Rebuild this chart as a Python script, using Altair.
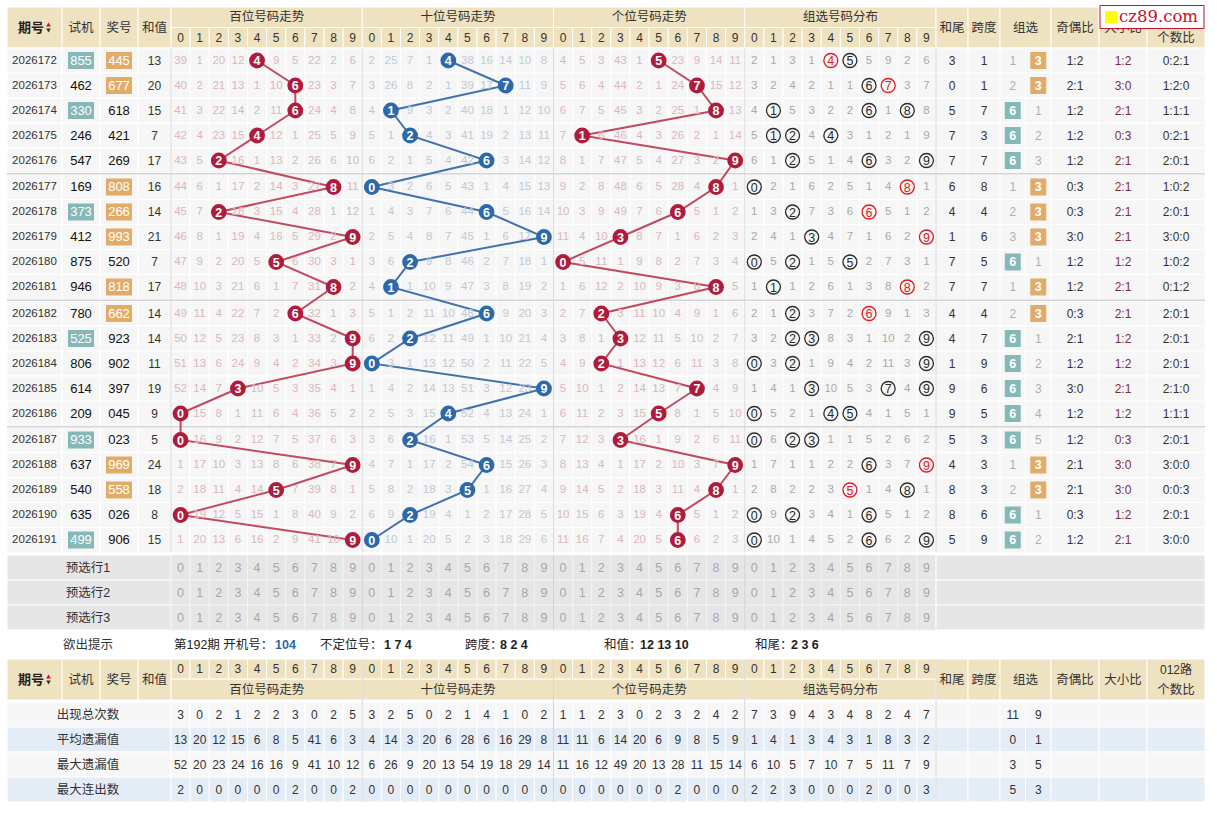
import altair as alt
import pandas as pd

# ---------------- data ----------------
periods = ["2026172", "2026173", "2026174", "2026175", "2026176", "2026177", "2026178",
           "2026179", "2026180", "2026181", "2026182", "2026183", "2026184", "2026185",
           "2026186", "2026187", "2026188", "2026189", "2026190", "2026191"]
trial_numbers = ["855", "462", "330", "246", "547", "169", "373", "412", "875", "946",
                 "780", "525", "806", "614", "209", "933", "637", "540", "635", "499"]
draw_numbers = ["445", "677", "618", "421", "269", "808", "266", "993", "520", "818",
                "662", "923", "902", "397", "045", "023", "969", "558", "026", "906"]
sum_values = [13, 20, 15, 7, 17, 16, 14, 21, 7, 17, 14, 14, 11, 19, 9, 5, 24, 18, 8, 15]
sum_tails = [3, 0, 5, 7, 7, 6, 4, 1, 7, 7, 4, 4, 1, 9, 9, 5, 4, 8, 8, 5]
span_values = [1, 1, 7, 3, 7, 8, 4, 6, 5, 7, 4, 7, 9, 6, 5, 3, 3, 3, 6, 9]
group6_col = ["1", "2", "6", "6", "6", "1", "2", "3", "6", "1",
              "2", "6", "6", "6", "6", "6", "1", "2", "6", "6"]
group3_col = ["3", "3", "1", "2", "3", "3", "3", "3", "1", "3",
              "3", "1", "2", "3", "4", "5", "3", "3", "1", "2"]
odd_even_ratio = ["1:2", "2:1", "1:2", "1:2", "1:2", "0:3", "0:3", "3:0", "1:2", "1:2",
                  "0:3", "2:1", "1:2", "3:0", "1:2", "1:2", "2:1", "2:1", "0:3", "1:2"]
big_small_ratio = ["1:2", "3:0", "2:1", "0:3", "2:1", "2:1", "2:1", "2:1", "1:2", "2:1",
                   "2:1", "1:2", "1:2", "2:1", "1:2", "0:3", "3:0", "3:0", "1:2", "2:1"]
road_012_ratio = ["0:2:1", "1:2:0", "1:1:1", "0:2:1", "2:0:1", "1:0:2", "2:0:1", "3:0:0",
                  "1:0:2", "0:1:2", "2:0:1", "2:0:1", "2:0:1", "2:1:0", "1:1:1", "2:0:1",
                  "3:0:0", "0:0:3", "2:0:1", "3:0:0"]

miss_hundreds = [
    "39 1 20 12 4 9 5 22 2 6", "40 2 21 13 1 10 6 23 3 7", "41 3 22 14 2 11 6 24 4 8",
    "42 4 23 15 4 12 1 25 5 9", "43 5 2 16 1 13 2 26 6 10", "44 6 1 17 2 14 3 27 8 11",
    "45 7 2 18 3 15 4 28 1 12", "46 8 1 19 4 16 5 29 2 9", "47 9 2 20 5 5 6 30 3 1",
    "48 10 3 21 6 1 7 31 8 2", "49 11 4 22 7 2 6 32 1 3", "50 12 5 23 8 3 1 33 2 9",
    "51 13 6 24 9 4 2 34 3 9", "52 14 7 3 10 5 3 35 4 1", "0 15 8 1 11 6 4 36 5 2",
    "0 16 9 2 12 7 5 37 6 3", "1 17 10 3 13 8 6 38 7 9", "2 18 11 4 14 5 7 39 8 1",
    "0 19 12 5 15 1 8 40 9 2", "1 20 13 6 16 2 9 41 10 9"]
miss_tens = [
    "2 25 7 1 4 38 16 14 10 8", "3 26 8 2 1 39 17 7 11 9", "4 1 9 3 2 40 18 1 12 10",
    "5 1 2 4 3 41 19 2 13 11", "6 2 1 5 4 42 6 3 14 12", "0 3 2 6 5 43 1 4 15 13",
    "1 4 3 7 6 44 6 5 16 14", "2 5 4 8 7 45 1 6 17 9", "3 6 2 9 8 46 2 7 18 1",
    "4 1 1 10 9 47 3 8 19 2", "5 1 2 11 10 48 6 9 20 3", "6 2 2 12 11 49 1 10 21 4",
    "0 3 1 13 12 50 2 11 22 5", "1 4 2 14 13 51 3 12 23 9", "2 5 3 15 4 52 4 13 24 1",
    "3 6 2 16 1 53 5 14 25 2", "4 7 1 17 2 54 6 15 26 3", "5 8 2 18 3 5 1 16 27 4",
    "6 9 2 19 4 1 2 17 28 5", "0 10 1 20 5 2 3 18 29 6"]
miss_units = [
    "4 5 3 43 1 5 23 9 14 11", "5 6 4 44 2 1 24 7 15 12", "6 7 5 45 3 2 25 1 8 13",
    "7 1 6 46 4 3 26 2 1 14", "8 1 7 47 5 4 27 3 2 9", "9 2 8 48 6 5 28 4 8 1",
    "10 3 9 49 7 6 6 5 1 2", "11 4 10 3 8 7 1 6 2 3", "0 5 11 1 9 8 2 7 3 4",
    "1 6 12 2 10 9 3 8 8 5", "2 7 2 3 11 10 4 9 1 6", "3 8 1 3 12 11 5 10 2 7",
    "4 9 2 1 13 12 6 11 3 8", "5 10 1 2 14 13 7 7 4 9", "6 11 2 3 15 5 8 1 5 10",
    "7 12 3 3 16 1 9 2 6 11", "8 13 4 1 17 2 10 3 7 9", "9 14 5 2 18 3 11 4 8 1",
    "10 15 6 3 19 4 6 5 1 2", "11 16 7 4 20 5 6 6 2 3"]
miss_group = [
    "2 1 3 1 4 5 5 9 2 6", "3 2 4 2 1 1 6 7 3 7", "4 1 5 3 2 2 6 1 8 8",
    "5 1 2 4 4 3 1 2 1 9", "6 1 2 5 1 4 6 3 2 9", "0 2 1 6 2 5 1 4 8 1",
    "1 3 2 7 3 6 6 5 1 2", "2 4 1 3 4 7 1 6 2 9", "0 5 2 1 5 5 2 7 3 1",
    "1 1 1 2 6 1 3 8 8 2", "2 1 2 3 7 2 6 9 1 3", "3 2 2 3 8 3 1 10 2 9",
    "0 3 2 1 9 4 2 11 3 9", "1 4 1 3 10 5 3 7 4 9", "0 5 2 1 4 5 4 1 5 1",
    "0 6 2 3 1 1 5 2 6 2", "1 7 1 1 2 2 6 3 7 9", "2 8 2 2 3 5 1 4 8 1",
    "0 9 2 3 4 1 6 5 1 2", "0 10 1 4 5 2 6 6 2 9"]

digit_labels = ["0", "1", "2", "3", "4", "5", "6", "7", "8", "9"]
section_titles = ["百位号码走势", "十位号码走势", "个位号码走势", "组选号码分布"]
left_titles = ["期号", "试机", "奖号", "和值"]
right_titles = ["和尾", "跨度", "组选", "奇偶比", "大小比"]
road_title = ["012路", "个数比"]
preselect_labels = ["预选行1", "预选行2", "预选行3"]
stat_labels = ["出现总次数", "平均遗漏值", "最大遗漏值", "最大连出数"]
stat_values = [
    "3 0 2 1 2 2 3 0 2 5 3 2 5 0 2 1 4 1 0 2 1 1 2 3 0 2 3 2 4 2 7 3 9 4 3 4 8 2 4 7",
    "13 20 12 15 6 8 5 41 6 3 4 14 3 20 6 28 6 16 29 8 11 11 6 14 20 6 9 8 5 9 1 4 1 3 4 3 1 8 3 2",
    "52 20 23 24 16 16 9 41 10 12 6 26 9 20 13 54 19 18 29 14 11 16 12 49 20 13 28 11 15 14 6 10 5 7 10 7 5 11 7 9",
    "2 0 0 0 0 0 2 0 0 2 0 0 0 0 0 0 0 0 0 0 0 0 0 0 0 0 2 0 0 0 2 2 3 0 0 0 2 0 0 3"]
stat_group = [("11", "9"), ("0", "1"), ("3", "5"), ("5", "3")]
tip_parts = [("第192期 开机号：", "n"), ("104", "blue"), ("不定位号：", "n"), ("1 7 4", "b"),
             ("跨度：", "n"), ("8 2 4", "b"), ("和值：", "n"), ("12 13 10", "b"),
             ("和尾：", "n"), ("2 3 6", "b")]

# ---------------- layout & style ----------------
W, H = 1217, 817
FONT = "Liberation Sans, Noto Sans CJK SC, sans-serif"
TAN = "#EFE2C1"
CELL = "#F6F6F6"
GRID = "#FFFFFF"
SEP = "#D3D3D3"
PRE = "#E6E6E6"
STAT_BG = ["#F7F7F7", "#E4ECF6", "#F7F7F7", "#E4ECF6"]
TEAL = "#86B8B9"
ORANGE = "#E1AC68"
RED_BALL, RED_LINE = "#B01B3C", "#C24A60"
BLUE_BALL, BLUE_LINE = "#2D68A8", "#3F72AF"
MISS_COL = ["#D9B8BD", "#C0C9D5", "#D9B8BD", "#A9A9A9"]
TXT = "#333333"

SEC0, CW = 171.0, 19.125
LEFT = [(7, 62), (62, 100), (100, 138), (138, 171)]
RIGHT = [(936, 968), (968, 1000), (1000, 1051), (1051, 1099), (1099, 1147), (1147, 1205)]
ZX_SUB = [(1000, 1025.5), (1025.5, 1051)]
PRE_TOP = [555, 580, 605]
STAT_TOP = [702, 727, 752, 777]


def cx(sec, d):
    return SEC0 + sec * 10 * CW + (d + 0.5) * CW


def row_top(i):
    return 48 + 25 * i + 1.5 * (i // 5)


def yc(i):
    return row_top(i) + 12.5


def lc(k):
    return (LEFT[k][0] + LEFT[k][1]) / 2


def rc(k):
    return (RIGHT[k][0] + RIGHT[k][1]) / 2


rects, hls, rules = [], [], []
tc, tb, tl, tlb = [], [], [], []
balls, lines, rings, arrows = [], [], [], []


def R(x0, x1, y0, y1, f, s=GRID):
    rects.append(dict(x=x0, x2=x1, y=y0, y2=y1, f=f, s=s))


def T(lst, x, y, t, c=TXT, s=12):
    lst.append(dict(x=x, y=y, t=str(t), c=c, s=s))


def header_block(y0, y1, ymid, digits_top):
    for a, b in LEFT:
        R(a, b, y0, y1, TAN)
    for sec in range(4):
        sx = SEC0 + sec * 10 * CW
        if digits_top:
            R(sx, sx + 10 * CW, ymid, y1, TAN)
            for d in range(10):
                R(sx + d * CW, sx + (d + 1) * CW, y0, ymid, TAN)
        else:
            R(sx, sx + 10 * CW, y0, ymid, TAN)
            for d in range(10):
                R(sx + d * CW, sx + (d + 1) * CW, ymid, y1, TAN)
    for a, b in RIGHT:
        R(a, b, y0, y1, TAN)
    yl = (y0 + y1) / 2
    T(tb, 31, yl, left_titles[0], "#222", 13)
    arrows.append(dict(x=48.5, y=yl - 3, c="#CC1111", sh="triangle-up"))
    arrows.append(dict(x=48.5, y=yl + 3, c="#333333", sh="triangle-down"))
    for k in range(1, 4):
        T(tc, lc(k), yl, left_titles[k], TXT, 12.5)
    ytitle = (ymid + y1) / 2 if digits_top else (y0 + ymid) / 2
    ydig = (y0 + ymid) / 2 if digits_top else (ymid + y1) / 2
    for sec in range(4):
        T(tc, SEC0 + sec * 10 * CW + 5 * CW, ytitle, section_titles[sec], TXT, 12.5)
        for d in range(10):
            T(tc, cx(sec, d), ydig, digit_labels[d], TXT, 12)
    for k in range(5):
        T(tc, rc(k), yl, right_titles[k], TXT, 12.5)
    T(tc, rc(5), y0 + 11, road_title[0], TXT, 12)
    T(tc, rc(5), y1 - 10, road_title[1], TXT, 12.5)


# top header
header_block(7, 48, 27.5, False)

# data rows
for i in range(20):
    t = row_top(i)
    y = yc(i)
    for a, b in LEFT:
        R(a, b, t, t + 25, CELL)
    for sec in range(4):
        for d in range(10):
            R(SEC0 + (sec * 10 + d) * CW, SEC0 + (sec * 10 + d + 1) * CW, t, t + 25, CELL)
    for k, (a, b) in enumerate(RIGHT):
        if k == 2:
            for a2, b2 in ZX_SUB:
                R(a2, b2, t, t + 25, CELL)
        else:
            R(a, b, t, t + 25, CELL)
    dn = draw_numbers[i]
    tn = trial_numbers[i]
    T(tc, lc(0), y, periods[i], TXT, 11.5)
    if len(set(tn)) < 3:
        hls.append(dict(x=lc(1) - 13, x2=lc(1) + 13, y=y - 8.5, y2=y + 8.5, f=TEAL))
        T(tc, lc(1), y, tn, "#FFFFFF", 13)
    else:
        T(tc, lc(1), y, tn, "#111111", 13)
    if len(set(dn)) < 3:
        hls.append(dict(x=lc(2) - 13, x2=lc(2) + 13, y=y - 8.5, y2=y + 8.5, f=ORANGE))
        T(tc, lc(2), y, dn, "#FFFFFF", 13)
    else:
        T(tc, lc(2), y, dn, "#111111", 13)
    T(tc, lc(3), y, sum_values[i], TXT, 12)
    for sec, arr in enumerate([miss_hundreds, miss_tens, miss_units, miss_group]):
        vals = arr[i].split()
        for d, v in enumerate(vals):
            x = cx(sec, d)
            if sec < 3 and int(dn[sec]) == d:
                col = BLUE_BALL if sec == 1 else RED_BALL
                balls.append(dict(x=x, y=y, c=col))
                lines.append(dict(x=x, y=y, i=i, sec=str(sec), c=BLUE_LINE if sec == 1 else RED_LINE))
                T(tb, x, y + 0.5, v, "#FFFFFF", 12.5)
            elif sec == 3 and str(d) in dn:
                col = "#E0191E" if dn.count(str(d)) >= 2 else "#2A2A2A"
                rings.append(dict(x=x, y=y, c=col))
                T(tc, x, y + 0.5, v, col, 12.5)
            else:
                T(tc, x, y, v, MISS_COL[sec], 11.5)
    T(tc, rc(0), y, sum_tails[i], TXT, 12)
    T(tc, rc(1), y, span_values[i], TXT, 12)
    six = len(set(dn)) == 3
    xl = (ZX_SUB[0][0] + ZX_SUB[0][1]) / 2
    xr = (ZX_SUB[1][0] + ZX_SUB[1][1]) / 2
    if six:
        hls.append(dict(x=xl - 8, x2=xl + 8, y=y - 8.5, y2=y + 8.5, f=TEAL))
        T(tb, xl, y, group6_col[i], "#FFFFFF", 12.5)
        T(tc, xr, y, group3_col[i], "#B0B0B0", 12)
    else:
        hls.append(dict(x=xr - 8, x2=xr + 8, y=y - 8.5, y2=y + 8.5, f=ORANGE))
        T(tc, xl, y, group6_col[i], "#B0B0B0", 12)
        T(tb, xr, y, group3_col[i], "#FFFFFF", 12.5)
    T(tc, rc(3), y, odd_even_ratio[i], TXT, 12)
    T(tc, rc(4), y, big_small_ratio[i], "#7B2E3E", 12)
    T(tc, rc(5), y, road_012_ratio[i], TXT, 12)

# group separators in the data block
for g in (5, 10, 15):
    yy = row_top(g) - 0.75
    rules.append(dict(x=7, x2=1205, y=yy, y2=yy, c=SEP, w=1.5))
for xb in [171, SEC0 + 10 * CW, SEC0 + 20 * CW, SEC0 + 30 * CW, 936]:
    rules.append(dict(x=xb, x2=xb, y=48, y2=row_top(19) + 25, c="#DADADA", w=1))

# preselect rows
for k, t in enumerate(PRE_TOP):
    R(7, 171, t, t + 25, PRE)
    for sec in range(4):
        for d in range(10):
            R(SEC0 + (sec * 10 + d) * CW, SEC0 + (sec * 10 + d + 1) * CW, t, t + 25, PRE, "#F3F3F3")
            T(tc, cx(sec, d), t + 12.5, digit_labels[d], "#A6A6A6", 12.5)
    R(936, 1205, t, t + 25, PRE)
    T(tc, 88, t + 12.5, preselect_labels[k], TXT, 12.5)
for xb in [SEC0 + 10 * CW, SEC0 + 20 * CW, SEC0 + 30 * CW]:
    rules.append(dict(x=xb, x2=xb, y=555, y2=630, c="#D0D0D0", w=1))

# hint row
T(tc, 88, 644.5, "欲出提示", TXT, 12.5)
tip_x = [174, 275, 320, 384, 465, 500, 604, 640, 755, 791]
for (txt, kind), xx in zip(tip_parts, tip_x):
    if kind == "n":
        T(tl, xx, 644.5, txt, "#222222", 12.5)
    elif kind == "blue":
        T(tlb, xx, 644.5, txt, "#2F67A6", 12.5)
    else:
        T(tlb, xx, 644.5, txt, "#222222", 12.5)

# bottom header
header_block(659, 700, 679, True)

# statistics rows
for k, t in enumerate(STAT_TOP):
    bg = STAT_BG[k]
    y = t + 12.5
    R(7, 171, t, t + 25, bg)
    vals = stat_values[k].split()
    for j, v in enumerate(vals):
        R(SEC0 + j * CW, SEC0 + (j + 1) * CW, t, t + 25, bg)
        T(tc, cx(j // 10, j % 10), y, v, TXT, 12)
    for kk, (a, b) in enumerate(RIGHT):
        if kk == 2:
            for a2, b2 in ZX_SUB:
                R(a2, b2, t, t + 25, bg)
        else:
            R(a, b, t, t + 25, bg)
    T(tc, (ZX_SUB[0][0] + ZX_SUB[0][1]) / 2, y, stat_group[k][0], TXT, 12)
    T(tc, (ZX_SUB[1][0] + ZX_SUB[1][1]) / 2, y, stat_group[k][1], TXT, 12)
    T(tc, 88, y, stat_labels[k], TXT, 12.5)
for xb in [SEC0 + 10 * CW, SEC0 + 20 * CW, SEC0 + 30 * CW, 936]:
    rules.append(dict(x=xb, x2=xb, y=659, y2=802, c="#D6D6D6", w=1))

# ---------------- chart ----------------
XS = alt.Scale(domain=[0, W], nice=False, zero=False)
YS = alt.Scale(domain=[0, H], nice=False, zero=False, reverse=True)
X = alt.X("x:Q", scale=XS, axis=None)
Y = alt.Y("y:Q", scale=YS, axis=None)

rect_layer = alt.Chart(pd.DataFrame(rects)).mark_rect(strokeWidth=1).encode(
    x=X, x2="x2:Q", y=Y, y2="y2:Q",
    fill=alt.Fill("f:N", scale=None), stroke=alt.Stroke("s:N", scale=None))
hl_layer = alt.Chart(pd.DataFrame(hls)).mark_rect().encode(
    x=X, x2="x2:Q", y=Y, y2="y2:Q", fill=alt.Fill("f:N", scale=None))
rule_layer = alt.Chart(pd.DataFrame(rules)).mark_rule().encode(
    x=X, x2="x2:Q", y=Y, y2="y2:Q", color=alt.Color("c:N", scale=None),
    strokeWidth=alt.StrokeWidth("w:Q", scale=None))
line_layer = alt.Chart(pd.DataFrame(lines)).mark_line(strokeWidth=2).encode(
    x=X, y=Y, detail="sec:N", order="i:Q", color=alt.Color("c:N", scale=None))
ball_layer = alt.Chart(pd.DataFrame(balls)).mark_circle(size=250, opacity=1).encode(
    x=X, y=Y, color=alt.Color("c:N", scale=None))
ring_layer = alt.Chart(pd.DataFrame(rings)).mark_point(
    shape="circle", filled=False, size=195, strokeWidth=1.3, opacity=1).encode(
    x=X, y=Y, color=alt.Color("c:N", scale=None))
arrow_layer = alt.Chart(pd.DataFrame(arrows)).mark_point(filled=True, size=22, opacity=1).encode(
    x=X, y=Y, color=alt.Color("c:N", scale=None), shape=alt.Shape("sh:N", scale=None))


def text_layer(rows, bold=False, align="center"):
    kw = dict(font=FONT, align=align, baseline="middle")
    if bold:
        kw["fontWeight"] = "bold"
    return alt.Chart(pd.DataFrame(rows)).mark_text(**kw).encode(
        x=X, y=Y, text="t:N", color=alt.Color("c:N", scale=None),
        size=alt.Size("s:Q", scale=None))


wm_box = alt.Chart(pd.DataFrame([dict(x=1100, x2=1204, y=5.5, y2=28.5)])).mark_rect(
    fill="#FFFFFF", stroke="#C8102E", strokeWidth=1).encode(x=X, x2="x2:Q", y=Y, y2="y2:Q")
wm_sq = alt.Chart(pd.DataFrame([dict(x=1105, x2=1117, y=11, y2=23)])).mark_rect(
    fill="#FFFF00").encode(x=X, x2="x2:Q", y=Y, y2="y2:Q")
wm_txt = alt.Chart(pd.DataFrame([dict(x=1119, y=16.5, t="cz89.com")])).mark_text(
    font="DejaVu Serif, Liberation Serif, serif", fontSize=16.5, color="#C8102E",
    align="left", baseline="middle").encode(x=X, y=Y, text="t:N")

chart = alt.layer(
    rect_layer, hl_layer, rule_layer, line_layer, ball_layer, ring_layer, arrow_layer,
    text_layer(tc), text_layer(tb, bold=True), text_layer(tl, align="left"),
    text_layer(tlb, bold=True, align="left"), wm_box, wm_sq, wm_txt
).properties(
    width=W, height=H, padding=0, background="#FFFFFF",
    autosize=alt.AutoSizeParams(type="none")
).configure_view(stroke=None)

chart.save("out.html", embed_options={"renderer": "svg", "actions": False})
